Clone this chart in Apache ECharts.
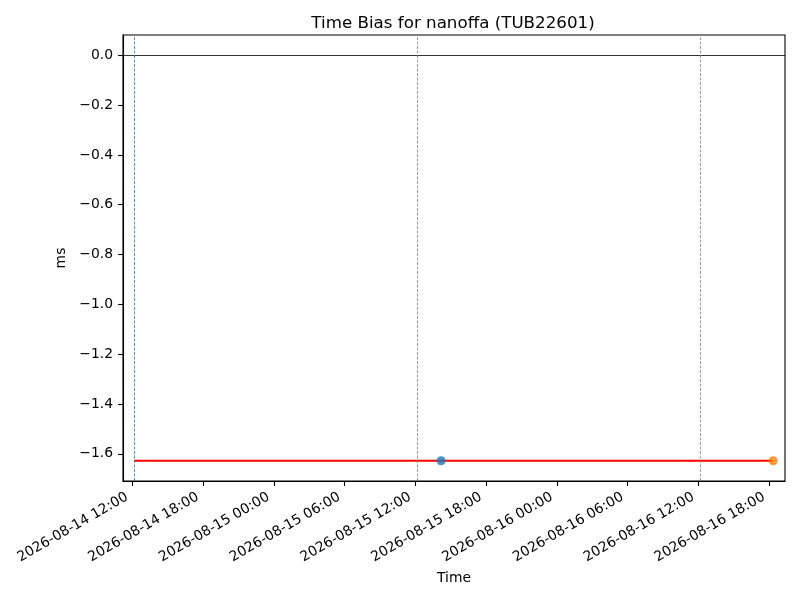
<!DOCTYPE html>
<html>
<head>
<meta charset="utf-8">
<script src="https://cdn.jsdelivr.net/npm/echarts@6/dist/echarts.min.js"></script>
<style>html,body{margin:0;padding:0;background:#fff}#c{width:800px;height:600px}</style>
</head>
<body>
<div id="c"></div>
<script>
// ---- data ----
const titleText = 'Time Bias for nanoffa (TUB22601)';
const biasTimes = ['2026-08-14 12:10', '2026-08-16 18:20'];   // red bias line
const biasValues = [-1.628, -1.628];
const bluePoint = ['2026-08-15 14:11', -1.628];
const orangePoint = ['2026-08-16 18:20', -1.628];
const startMarker = '2026-08-14 12:10';                        // blue dashed
const dayMarkers = ['2026-08-15 12:10', '2026-08-16 12:10'];   // gray dashed
const xTickLabels = ['2026-08-14 12:00','2026-08-14 18:00','2026-08-15 00:00','2026-08-15 06:00',
  '2026-08-15 12:00','2026-08-15 18:00','2026-08-16 00:00','2026-08-16 06:00','2026-08-16 12:00','2026-08-16 18:00'];
const yTicks = [0.0, -0.2, -0.4, -0.6, -0.8, -1.0, -1.2, -1.4, -1.6];
const xRange = ['2026-08-14 11:13', '2026-08-16 19:20'];
const yRange = [-1.7094, 0.0814];

function t(s){
  const m = s.match(/(\d+)-(\d+)-(\d+) (\d+):(\d+)/);
  return Date.UTC(+m[1], +m[2]-1, +m[3], +m[4], +m[5]);
}
function pad(n){return (n<10?'0':'')+n;}
function fmt(v){
  const d = new Date(v);
  return d.getUTCFullYear()+'-'+pad(d.getUTCMonth()+1)+'-'+pad(d.getUTCDate())+' '+pad(d.getUTCHours())+':'+pad(d.getUTCMinutes());
}
const xTicks = xTickLabels.map(t);
const font = 'DejaVu Sans';
const fs = 13.9;

const chart = echarts.init(document.getElementById('c'), null, {renderer:'canvas'});
chart.setOption({
  animation: false,
  backgroundColor: '#fff',
  textStyle: {fontFamily: font},
  title: {
    text: titleText, left: 448, top: 10, textAlign: 'center',
    textStyle: {fontFamily: font, fontSize: 16.7, fontWeight: 'normal', color: '#000'}
  },
  grid: {left: 123, right: 15, top: 35, bottom: 119, show: true, borderColor: '#000', borderWidth: 1.1, backgroundColor: 'transparent'},
  xAxis: {
    type: 'value', min: t(xRange[0]), max: t(xRange[1]),
    name: 'Time', nameLocation: 'middle', nameGap: 89,
    nameTextStyle: {fontFamily: font, fontSize: fs, color: '#000'},
    axisLine: {show: true, onZero: false, lineStyle: {color: '#000', width: 1.1}},
    axisTick: {show: true, length: 4.9, lineStyle: {color: '#000', width: 1.1}, customValues: xTicks},
    axisLabel: {show: true, rotate: 30, margin: 12, padding: [0, 6, 0, 0], fontFamily: font, fontSize: fs, color: '#000',
      customValues: xTicks, formatter: v => fmt(v)},
    splitLine: {show: false}
  },
  yAxis: {
    type: 'value', min: yRange[0], max: yRange[1],
    name: 'ms', nameLocation: 'middle', nameGap: 46, nameRotate: 90,
    nameTextStyle: {fontFamily: font, fontSize: fs, color: '#000'},
    axisLine: {show: true, onZero: false, lineStyle: {color: '#000', width: 1.1}},
    axisTick: {show: true, length: 4.9, lineStyle: {color: '#000', width: 1.1}, customValues: yTicks},
    axisLabel: {show: true, margin: 10, fontFamily: font, fontSize: fs, color: '#000',
      customValues: yTicks, formatter: v => (v < 0 ? '\u2212' : '') + Math.abs(v).toFixed(1)},
    splitLine: {show: false}
  },
  series: [
    {
      type: 'line', data: [], silent: true,
      markLine: {
        silent: true, symbol: 'none', label: {show: false},
        data: [
          {yAxis: 0, lineStyle: {color: '#000', width: 0.8, type: 'solid'}},
          {xAxis: t(startMarker), lineStyle: {color: '#1f77b4', width: 0.8, type: [3, 1.5]}},
          ...dayMarkers.map(s => ({xAxis: t(s), lineStyle: {color: '#808080', width: 0.8, type: [3, 1.5]}}))
        ]
      }
    },
    {
      type: 'line', data: biasTimes.map((s, i) => [t(s), biasValues[i]]),
      showSymbol: false, symbol: 'none', lineStyle: {color: '#ff0000', width: 2.1}, z: 3
    },
    {
      type: 'scatter', data: [[t(bluePoint[0]), bluePoint[1]]],
      symbol: 'circle', symbolSize: 9, itemStyle: {color: '#1f77b4'}, z: 4
    },
    {
      type: 'scatter', data: [[t(orangePoint[0]), orangePoint[1]]],
      symbol: 'circle', symbolSize: 9, itemStyle: {color: '#ff7f0e'}, z: 4
    }
  ]
});
</script>
</body>
</html>
